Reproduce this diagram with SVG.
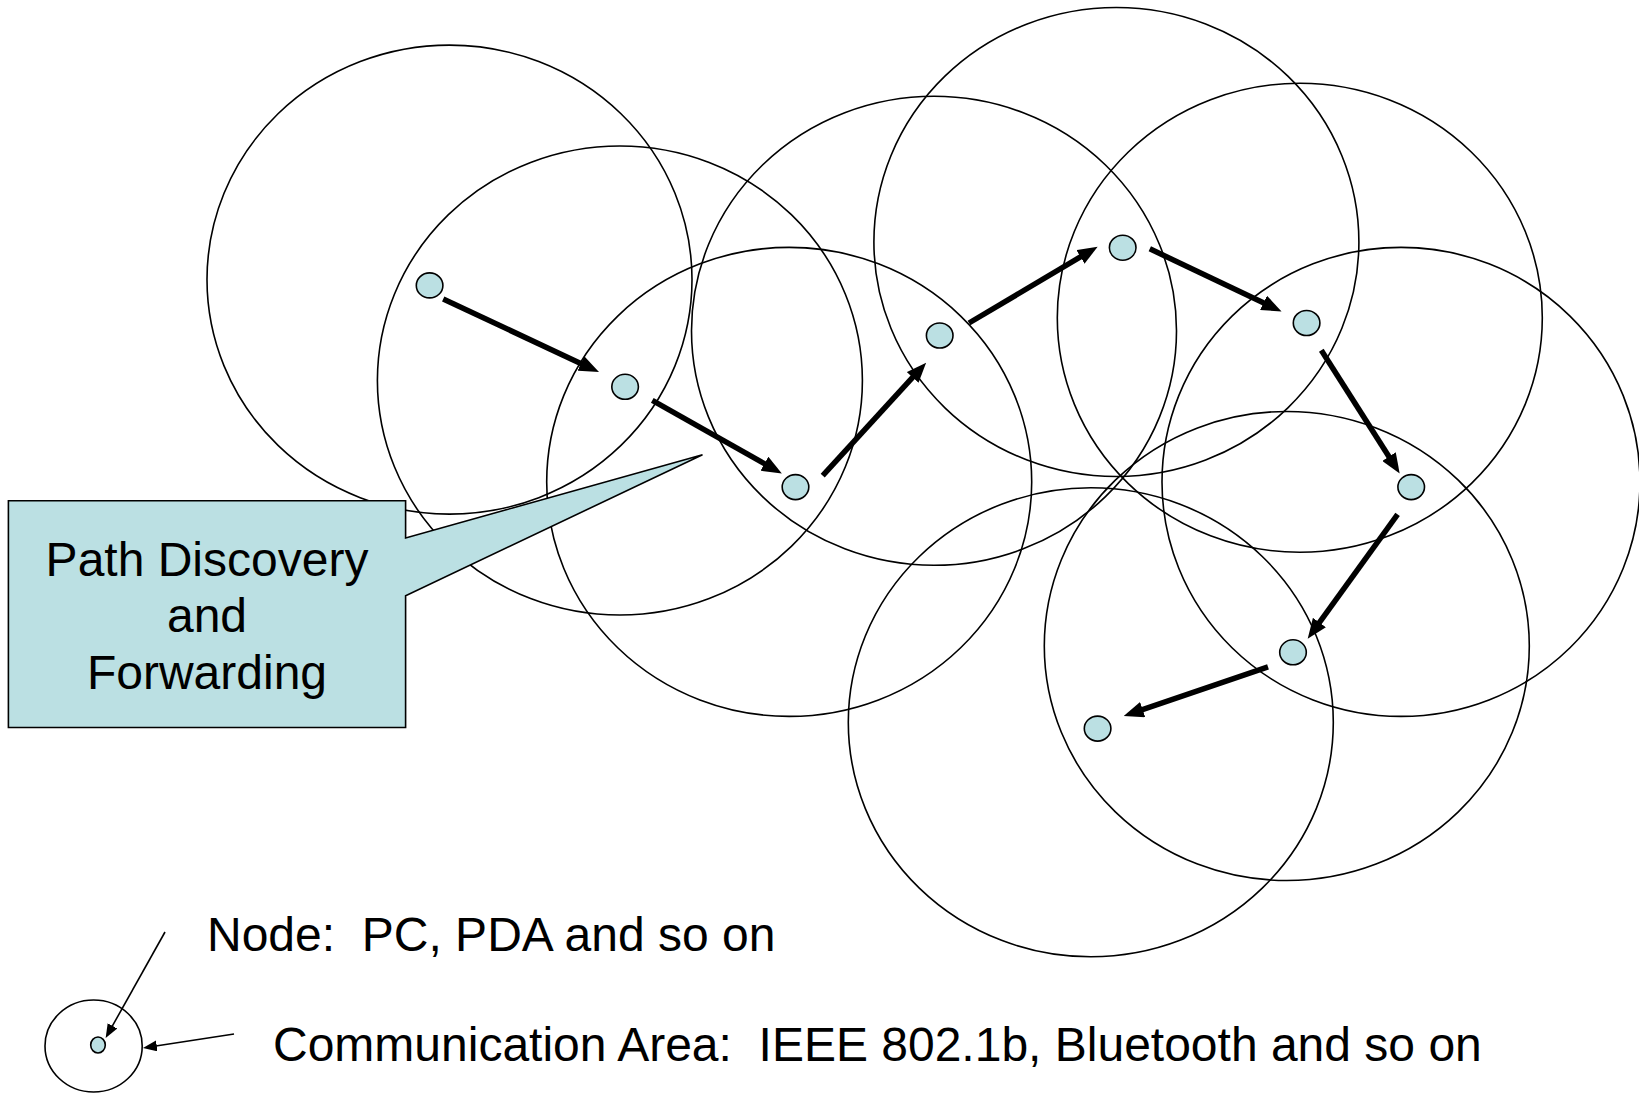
<svg xmlns="http://www.w3.org/2000/svg" width="1639" height="1095" viewBox="0 0 1639 1095">
<style>
.area{fill:none;stroke:#000;stroke-width:1.6}
.node{fill:#BBE0E3;stroke:#000;stroke-width:1.6}
.hop{stroke:#000;stroke-width:5.5;fill:none;marker-end:url(#head)}
.thin{stroke:#000;stroke-width:1.6;fill:none;marker-end:url(#thinhead)}
.lbl{font-family:"Liberation Sans",Arial,sans-serif;font-size:48px;fill:#000;white-space:pre}
</style>
<defs>
<marker id="head" markerUnits="userSpaceOnUse" viewBox="0 0 20 16" markerWidth="20" markerHeight="16" refX="1" refY="8" orient="auto">
<path d="M0,0 L20,8 L0,16 z" fill="#000"/>
</marker>
<marker id="thinhead" markerUnits="userSpaceOnUse" viewBox="0 0 14 11" markerWidth="14" markerHeight="11" refX="1" refY="5.5" orient="auto">
<path d="M0,0 L14,5.5 L0,11 z" fill="#000"/>
</marker>
</defs>
<rect width="1639" height="1095" fill="#fff"/>
<g id="areas">
<ellipse class="area" cx="449.5" cy="279.6" rx="242.5" ry="234.5"/>
<ellipse class="area" cx="619.9" cy="380.5" rx="242.5" ry="234.5"/>
<ellipse class="area" cx="789.2" cy="481.9" rx="242.5" ry="234.5"/>
<ellipse class="area" cx="934" cy="330.8" rx="242.5" ry="234.5"/>
<ellipse class="area" cx="1116.4" cy="242" rx="242.5" ry="234.5"/>
<ellipse class="area" cx="1299.8" cy="317.8" rx="242.5" ry="234.5"/>
<ellipse class="area" cx="1401" cy="481.9" rx="239" ry="234.5"/>
<ellipse class="area" cx="1286.8" cy="646" rx="242.5" ry="234.5"/>
<ellipse class="area" cx="1090.8" cy="722.3" rx="242.5" ry="234.5"/>
</g>
<g id="callout">
<path d="M8.4,500.7 H405.6 V538 L702.5,454.7 L405.6,595.8 V727.5 H8.4 Z" fill="#BBE0E3" stroke="#000" stroke-width="1.6"/>
<text class="lbl" text-anchor="middle"><tspan x="207" y="576">Path Discovery</tspan><tspan x="207" y="632">and</tspan><tspan x="207" y="689">Forwarding</tspan></text>
</g>
<g id="connectors">
<line class="hop" x1="443.2" y1="299" x2="581.8" y2="364"/>
<line class="hop" x1="652.3" y1="400.4" x2="765.3" y2="464.2"/>
<line class="hop" x1="822.7" y1="475.6" x2="913.3" y2="376.7"/>
<line class="hop" x1="969" y1="323" x2="1081.3" y2="256.4"/>
<line class="hop" x1="1149.8" y1="248.8" x2="1264.4" y2="303.3"/>
<line class="hop" x1="1321.3" y1="350.2" x2="1389.5" y2="457.5"/>
<line class="hop" x1="1397.6" y1="514.3" x2="1318.8" y2="623.3"/>
<line class="hop" x1="1268" y1="666.9" x2="1141.7" y2="709.9"/>
<line class="thin" x1="165" y1="932" x2="112" y2="1026.7"/>
<line class="thin" x1="234" y1="1034" x2="155.8" y2="1046"/>
</g>
<g id="n1"><ellipse class="node" cx="429.6" cy="285.4" rx="13.3" ry="12.5"/></g>
<g id="n2"><ellipse class="node" cx="625.1" cy="386.8" rx="13.3" ry="12.5"/></g>
<g id="n3"><ellipse class="node" cx="795.5" cy="487.1" rx="13.3" ry="12.5"/></g>
<g id="n4"><ellipse class="node" cx="939.7" cy="335.5" rx="13.3" ry="12.5"/></g>
<g id="n5"><ellipse class="node" cx="1122.7" cy="247.7" rx="13.3" ry="12.5"/></g>
<g id="n6"><ellipse class="node" cx="1306.6" cy="323" rx="13.3" ry="12.5"/></g>
<g id="n7"><ellipse class="node" cx="1411.2" cy="487.1" rx="13.3" ry="12.5"/></g>
<g id="n8"><ellipse class="node" cx="1293" cy="652.3" rx="13.3" ry="12.5"/></g>
<g id="n9"><ellipse class="node" cx="1097.6" cy="728.6" rx="13.3" ry="12.5"/></g>
<g id="legend">
<ellipse class="area" cx="93.6" cy="1046" rx="48.6" ry="46"/>
<ellipse class="node" cx="98" cy="1045" rx="7.3" ry="8"/>
<text class="lbl" x="207" y="951" xml:space="preserve">Node:  PC, PDA and so on</text>
<text class="lbl" x="273" y="1061" xml:space="preserve">Communication Area:  IEEE 802.1b, Bluetooth and so on</text>
</g>
</svg>
